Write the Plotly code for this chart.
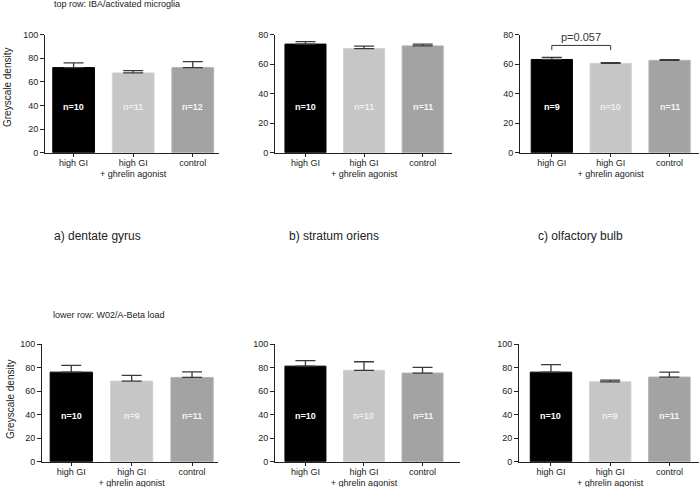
import plotly.graph_objects as go

# ---------------- data ----------------
categories = ["high GI", "high GI<br>+ ghrelin agonist", "control"]
bar_colors = ["#000000", "#c6c6c6", "#a3a3a3"]
bar_edges = ["#000000", "#d2d2d2", "#b2b2b2"]
n_colors = ["#ffffff", "#eeeeee", "#f4f4f4"]

# top row: IBA / activated microglia
dg_top = [72.0, 67.5, 72.0]
dg_top_err = [4.0, 2.0, 5.0]
dg_top_n = ["n=10", "n=11", "n=12"]

so_top = [73.5, 70.5, 72.3]
so_top_err = [1.7, 1.6, 1.2]
so_top_n = ["n=10", "n=11", "n=11"]

ob_top = [63.1, 60.4, 62.5]
ob_top_err = [1.4, 0.5, 0.4]
ob_top_n = ["n=9", "n=10", "n=11"]

# lower row: W02 / A-Beta load
dg_low = [76.1, 68.5, 71.6]
dg_low_err = [5.7, 4.8, 4.8]
dg_low_n = ["n=10", "n=9", "n=11"]

so_low = [81.2, 77.6, 75.3]
so_low_err = [4.6, 7.3, 4.8]
so_low_n = ["n=10", "n=10", "n=11"]

ob_low = [76.1, 67.9, 71.9]
ob_low_err = [6.3, 1.4, 4.2]
ob_low_n = ["n=10", "n=9", "n=11"]

y_max = [100, 80, 80, 100, 100, 100]
y_dtick = 20

p_text = "p=0.057"
p_bracket = [72.6, 69.4, 78.2]   # bracket top, bracket leg end, text level

row_titles = ["top row: IBA/activated microglia", "lower row: W02/A-Beta load"]
captions = ["a) dentate gyrus", "b) stratum oriens", "c) olfactory bulb"]
y_title = "Greyscale density"

panels = [
    (dg_top, dg_top_err, dg_top_n),
    (so_top, so_top_err, so_top_n),
    (ob_top, ob_top_err, ob_top_n),
    (dg_low, dg_low_err, dg_low_n),
    (so_low, so_low_err, so_low_n),
    (ob_low, ob_low_err, ob_low_n),
]

# ---------------- layout geometry (pixels) ----------------
W, H = 700, 487
x_dom_px = [(45, 219), (275, 452), (520, 699), (42, 218), (275, 460), (519, 699)]
x_ranges = [[-0.48, 2.44], [-0.52, 2.5], [-0.54, 2.5], [-0.485, 2.43], [-0.52, 2.64], [-0.54, 2.5]]
y_dom_px = [(34.5, 152.7), (34.5, 152.7), (34.5, 152.7), (344, 461.7), (344, 461.7), (344, 461.7)]

FONT = "Liberation Sans, Arial, sans-serif"
TXT = "#222222"

fig = go.Figure()
layout = dict(
    width=W, height=H,
    margin=dict(l=0, r=0, t=0, b=0),
    paper_bgcolor="white", plot_bgcolor="white",
    showlegend=False, bargap=0.3,
    font=dict(family=FONT, size=9, color=TXT),
)
annotations = []
shapes = []

for i, (vals, errs, ns) in enumerate(panels):
    k = "" if i == 0 else str(i + 1)
    fig.add_trace(go.Bar(
        x=categories, y=vals,
        marker=dict(color=bar_colors, line=dict(color=bar_edges, width=1)),
        error_y=dict(type="data", array=errs, arrayminus=[0] * len(errs),
                     symmetric=False, color="#3a3a3a", thickness=1.3, width=10),
        xaxis="x" + k, yaxis="y" + k, hoverinfo="skip",
    ))
    x0, x1 = x_dom_px[i]
    yt, yb = y_dom_px[i]
    layout["xaxis" + k] = dict(
        domain=[x0 / W, x1 / W], range=x_ranges[i], type="category",
        anchor="y" + k, showline=True, linecolor=TXT, linewidth=1,
        ticks="outside", ticklen=3, tickcolor=TXT, tickwidth=1,
        ticklabelstandoff=-2,
        showgrid=False, zeroline=False, automargin=False,
        tickfont=dict(size=9, color=TXT, family=FONT),
        fixedrange=True,
    )
    layout["yaxis" + k] = dict(
        domain=[1 - yb / H, 1 - yt / H], range=[0, y_max[i]], dtick=y_dtick,
        anchor="x" + k, showline=True, linecolor=TXT, linewidth=1,
        ticks="outside", ticklen=4, tickcolor=TXT, tickwidth=1,
        showgrid=False, zeroline=False, automargin=False,
        tickfont=dict(size=9, color=TXT, family=FONT),
        fixedrange=True,
    )
    for j, cat in enumerate(categories):
        annotations.append(dict(
            x=cat, y=0.39, xref="x" + k, yref=("y" + k) + " domain",
            text="<b>" + ns[j] + "</b>", showarrow=False,
            font=dict(size=9, color=n_colors[j], family=FONT),
        ))

# p-value bracket on olfactory bulb (top row)
top, leg, ptxt = p_bracket
shapes += [
    dict(type="line", xref="x3", yref="y3", x0=0, x1=1, y0=top, y1=top,
         line=dict(color="#333333", width=1)),
    dict(type="line", xref="x3", yref="y3", x0=0, x1=0, y0=top, y1=leg,
         line=dict(color="#333333", width=1)),
    dict(type="line", xref="x3", yref="y3", x0=1, x1=1, y0=top, y1=leg,
         line=dict(color="#333333", width=1)),
]
annotations.append(dict(x=0.5, y=ptxt, xref="x3", yref="y3", text=p_text,
                        showarrow=False, font=dict(size=11, color="#333333", family=FONT)))

# row titles
annotations.append(dict(x=52 / W, y=1 - 4.5 / H, xref="paper", yref="paper", xanchor="left",
                        yanchor="middle", text=row_titles[0], showarrow=False,
                        font=dict(size=9, color=TXT, family=FONT)))
annotations.append(dict(x=51 / W, y=1 - 315 / H, xref="paper", yref="paper", xanchor="left",
                        yanchor="middle", text=row_titles[1], showarrow=False,
                        font=dict(size=9, color=TXT, family=FONT)))

# captions
for cx, cap in zip([52, 287, 536], captions):
    annotations.append(dict(x=cx / W, y=1 - 236 / H, xref="paper", yref="paper", xanchor="left",
                            yanchor="middle", text=cap, showarrow=False,
                            font=dict(size=12, color=TXT, family=FONT)))

# y axis titles
for ty, tx in [(88, 7), (400, 10)]:
    annotations.append(dict(x=tx / W, y=1 - ty / H, xref="paper", yref="paper", xanchor="center",
                            yanchor="middle", text=y_title, textangle=-90, showarrow=False,
                            font=dict(size=10, color=TXT, family=FONT)))

layout["annotations"] = annotations
layout["shapes"] = shapes
fig.update_layout(**layout)
fig.write_html(
    "out.html",
    config={"displayModeBar": False, "staticPlot": True},
    post_script="document.body.style.margin='0px';document.body.style.overflow='hidden';",
)
